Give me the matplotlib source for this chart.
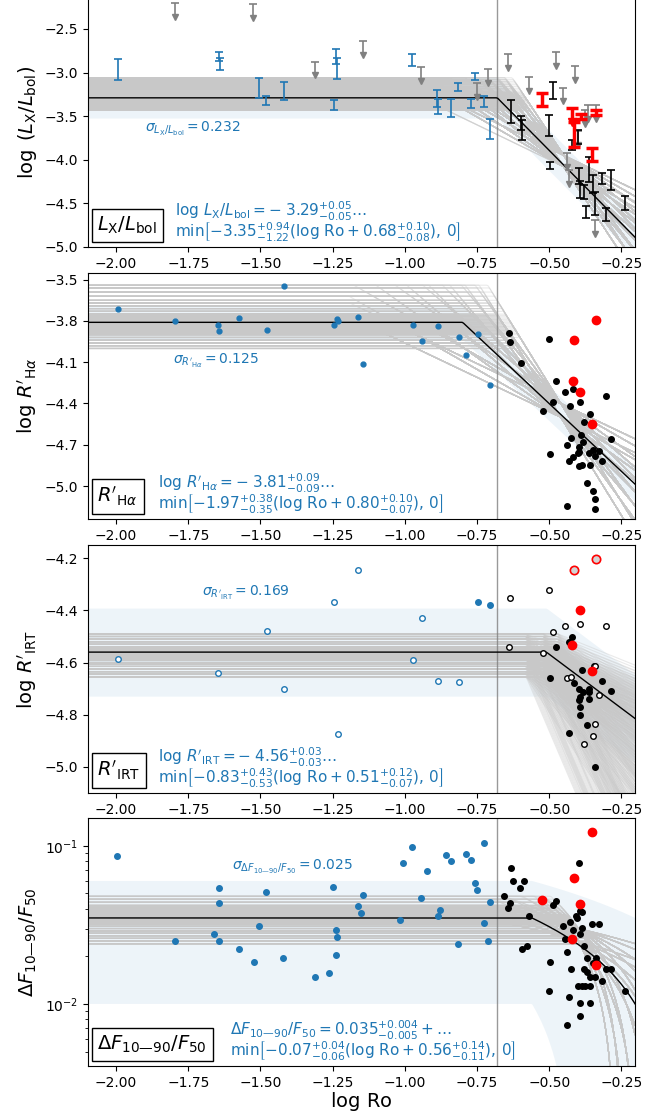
import itertools
import numpy as np
import matplotlib
matplotlib.use('Agg')
import matplotlib.pyplot as plt
from matplotlib.collections import LineCollection

BLUE = '#1f77b4'
RO_CUT = -0.68

# ---- L_X / L_bol ----
lx_blue_x = [-1.995, -1.643, -1.640, -1.505, -1.480, -1.420, -1.247, -1.240, -1.236, -0.974,
             -0.889, -0.885, -0.840, -0.816, -0.771, -0.757, -0.726, -0.705]
lx_blue_y = [-2.965, -2.82, -2.90, -3.18, -3.32, -3.21, -3.375, -2.815, -2.955, -2.857,
             -3.30, -3.39, -3.405, -3.165, -3.355, -3.045, -3.33, -3.645]
lx_blue_err = [0.12, 0.05, 0.07, 0.115, 0.05, 0.10, 0.055, 0.085, 0.12, 0.067,
               0.10, 0.09, 0.10, 0.042, 0.053, 0.04, 0.063, 0.115]
lx_black_x = [-0.633, -0.599, -0.593, -0.502, -0.487, -0.497, -0.399, -0.422, -0.398, -0.392,
              -0.378, -0.372, -0.361, -0.347, -0.341, -0.318, -0.303, -0.286, -0.236]
lx_black_y = [-3.443, -3.58, -3.657, -3.605, -3.206, -4.067, -3.74, -3.83, -4.19, -4.34,
              -4.37, -4.60, -4.11, -4.28, -4.50, -4.216, -4.627, -4.23, -4.497]
lx_black_err = [0.13, 0.077, 0.115, 0.12, 0.10, 0.04, 0.085, 0.055, 0.09, 0.10,
                0.075, 0.07, 0.14, 0.10, 0.13, 0.063, 0.073, 0.115, 0.076]
lx_red_x = [-0.526, -0.415, -0.390, -0.338, -0.352]
lx_red_y = [-3.31, -3.71, -3.50, -3.46, -3.94]
lx_red_err = [0.07, 0.14, 0.03, 0.025, 0.07]
lx_lim_x = [-1.796, -1.525, -1.311, -1.146, -0.945, -0.749, -0.713, -0.643, -0.569, -0.475,
            -0.453, -0.412, -0.365, -0.338, -0.376, -0.399, -0.439, -0.431, -0.341]
lx_lim_y = [-2.20, -2.21, -2.874, -2.637, -2.932, -3.122, -2.962, -2.786, -3.053, -2.76,
            -3.172, -2.92, -3.37, -3.37, -3.43, -3.676, -3.925, -4.115, -4.696]
lx_redlim_x = [-0.420]
lx_redlim_y = [-3.41]
LIM_LEN = 0.16

# ---- R'_Halpha ----
ha_blue_x = [-1.995, -1.795, -1.646, -1.643, -1.573, -1.478, -1.420, -1.246, -1.236, -1.233,
             -1.162, -1.144, -0.972, -0.941, -0.887, -0.814, -0.790, -0.747, -0.705]
ha_blue_y = [-3.715, -3.80, -3.831, -3.873, -3.778, -3.868, -3.544, -3.831, -3.785, -3.802,
             -3.771, -4.115, -3.829, -3.943, -3.839, -3.916, -4.049, -3.894, -4.267]
ha_black_x = [-0.641, -0.636, -0.599, -0.501, -0.475, -0.522, -0.486, -0.497, -0.447, -0.419,
              -0.428, -0.395, -0.359, -0.380, -0.303, -0.286, -0.424, -0.440, -0.389, -0.384,
              -0.396, -0.398, -0.400, -0.417, -0.431, -0.398, -0.387, -0.361, -0.349, -0.340,
              -0.329, -0.318, -0.359, -0.370, -0.350, -0.341, -0.341, -0.439]
ha_black_y = [-3.884, -3.955, -4.109, -3.930, -4.235, -4.458, -4.390, -4.767, -4.320, -4.298,
              -4.417, -4.390, -4.477, -4.533, -4.344, -4.659, -4.649, -4.700, -4.627, -4.678,
              -4.717, -4.749, -4.758, -4.787, -4.816, -4.854, -4.847, -4.758, -4.741, -4.785,
              -4.743, -4.816, -4.845, -4.976, -5.038, -5.096, -5.169, -5.147]
ha_red_x = [-0.339, -0.413, -0.419, -0.392, -0.353]
ha_red_y = [-3.79, -3.942, -4.235, -4.315, -4.547]

# ---- R'_IRT ----
irt_blue_open_x = [-1.995, -1.646, -1.478, -1.420, -1.246, -1.162, -1.233, -0.972, -0.941, -0.887, -0.814]
irt_blue_open_y = [-4.588, -4.642, -4.479, -4.701, -4.369, -4.245, -4.876, -4.591, -4.430, -4.670, -4.676]
irt_blue_x = [-0.747, -0.705]
irt_blue_y = [-4.369, -4.380]
irt_black_open_x = [-0.637, -0.501, -0.641, -0.522, -0.447, -0.487, -0.395, -0.303, -0.439, -0.424,
                    -0.345, -0.340, -0.327, -0.340, -0.350, -0.381]
irt_black_open_y = [-4.352, -4.323, -4.542, -4.565, -4.460, -4.482, -4.451, -4.460, -4.659, -4.656,
                    -4.612, -4.612, -4.725, -4.835, -4.881, -4.914]
irt_black_x = [-0.420, -0.431, -0.475, -0.497, -0.387, -0.416, -0.398, -0.384, -0.361, -0.361,
               -0.361, -0.395, -0.396, -0.394, -0.395, -0.319, -0.286, -0.370, -0.431, -0.341]
irt_black_y = [-4.501, -4.520, -4.541, -4.661, -4.630, -4.680, -4.701, -4.712, -4.703, -4.713,
               -4.740, -4.734, -4.742, -4.771, -4.802, -4.671, -4.710, -4.841, -4.872, -5.001]
irt_red_x = [-0.392, -0.420, -0.353]
irt_red_y = [-4.400, -4.531, -4.632]
irt_red_open_x = [-0.413, -0.339]
irt_red_open_y = [-4.245, -4.203]

# ---- Delta F_10-90 / F_50 ----
df_blue_x = [-1.997, -1.796, -1.642, -1.642, -1.660, -1.645, -1.573, -1.523, -1.505, -1.480,
             -1.421, -1.311, -1.264, -1.248, -1.237, -1.235, -1.238, -1.162, -1.151, -1.145,
             -1.016, -1.007, -0.974, -0.944, -0.923, -0.887, -0.880, -0.857, -0.839, -0.816,
             -0.789, -0.772, -0.757, -0.749, -0.726, -0.705, -0.725, -0.711]
df_blue_y = [0.0865, 0.0250, 0.0542, 0.0434, 0.0277, 0.0249, 0.0222, 0.0184, 0.0313, 0.0509,
             0.0194, 0.0148, 0.0157, 0.0552, 0.0295, 0.0267, 0.0203, 0.0415, 0.0378, 0.0487,
             0.0342, 0.0784, 0.0986, 0.0471, 0.0691, 0.0359, 0.0395, 0.0873, 0.0800, 0.0240,
             0.0890, 0.0818, 0.0581, 0.0525, 0.1040, 0.0443, 0.0324, 0.0249]
df_black_x = [-0.632, -0.625, -0.586, -0.600, -0.655, -0.636, -0.643, -0.569, -0.593, -0.578,
              -0.396, -0.475, -0.486, -0.428, -0.452, -0.417, -0.395, -0.407, -0.403, -0.394,
              -0.388, -0.385, -0.351, -0.327, -0.447, -0.439, -0.380, -0.497, -0.424, -0.370,
              -0.338, -0.347, -0.381, -0.370, -0.358, -0.340, -0.319, -0.303, -0.285, -0.400,
              -0.388, -0.376, -0.360, -0.501, -0.431, -0.395, -0.359, -0.236, -0.395, -0.440]
df_black_y = [0.0729, 0.0600, 0.0600, 0.0545, 0.0480, 0.0436, 0.0407, 0.0360, 0.0222, 0.0231,
              0.0780, 0.0451, 0.0424, 0.0332, 0.0313, 0.0294, 0.0279, 0.0360, 0.0348, 0.0388,
              0.0379, 0.0304, 0.0322, 0.0322, 0.0258, 0.0212, 0.0231, 0.0185, 0.0166, 0.0195,
              0.0195, 0.0181, 0.0167, 0.0159, 0.0148, 0.0148, 0.0139, 0.0166, 0.0166, 0.0129,
              0.0129, 0.0129, 0.0129, 0.0120, 0.0111, 0.0101, 0.0101, 0.0120, 0.00836, 0.0074]
df_red_x = [-0.353, -0.413, -0.525, -0.392, -0.420, -0.339]
df_red_y = [0.122, 0.0626, 0.0453, 0.0426, 0.0259, 0.0176]

# best-fit broken power laws: level + min(slope * (log Ro - brk), 0)
fits = {
    'lx': dict(level=-3.29, slope=-3.35, brk=-0.68, sigma=0.232),
    'ha': dict(level=-3.81, slope=-1.97, brk=-0.80, sigma=0.125),
    'irt': dict(level=-4.56, slope=-0.83, brk=-0.51, sigma=0.169),
    'df': dict(level=0.035, slope=-0.07, brk=-0.56, sigma=0.025),
}

# posterior draws, parametrised through pivot points on the slope
lx_levels = [-3.43, -3.41, -3.39, -3.375, -3.36, -3.35, -3.34, -3.33, -3.32, -3.315, -3.31,
             -3.30, -3.295, -3.29, -3.285, -3.28, -3.27, -3.265, -3.26, -3.25, -3.24, -3.23,
             -3.22, -3.20, -3.18, -3.16, -3.14, -3.12, -3.10, -3.08, -3.06]
lx_slopes = [-1.6, -1.9, -2.2, -2.6, -3.0, -3.4, -3.9, -4.4, -5.0]
lx_pivots = [(-0.45, -4.08), (-0.45, -3.95)]
ha_levels = [-4.00, -3.98, -3.96, -3.94, -3.92, -3.90, -3.89, -3.88, -3.87, -3.86, -3.85,
             -3.84, -3.83, -3.82, -3.81, -3.80, -3.79, -3.78, -3.77, -3.76, -3.75, -3.73,
             -3.71, -3.69, -3.67, -3.65, -3.62, -3.59, -3.56, -3.54]
ha_slopes = [-1.0, -1.2, -1.5, -1.8, -2.1, -2.5, -2.9, -3.4]
ha_pivots = [(-0.46, -4.40), (-0.46, -4.50)]
df_levels = [0.024, 0.025, 0.026, 0.027, 0.028, 0.029, 0.030, 0.031, 0.032, 0.0325, 0.033,
             0.0335, 0.034, 0.0345, 0.035, 0.0355, 0.036, 0.0365, 0.037, 0.038, 0.039, 0.040,
             0.041, 0.042, 0.044, 0.046, 0.048]
df_slopes = [-0.03, -0.04, -0.055, -0.07, -0.09, -0.12, -0.15, -0.19]
df_pivots = [(-0.40, 0.025), (-0.40, 0.030)]
# R'_IRT draws on a plain grid
irt_levels = [-4.655, -4.645, -4.635, -4.625, -4.615, -4.605, -4.60, -4.59, -4.585, -4.58,
              -4.575, -4.57, -4.565, -4.56, -4.555, -4.55, -4.545, -4.54, -4.53, -4.52,
              -4.51, -4.50, -4.49]
irt_slopes = [-0.45, -0.65, -0.9, -1.2, -1.7, -2.6]
irt_breaks = [-0.58, -0.52, -0.47]

XLIM = (-2.099, -0.203)
xx = np.linspace(XLIM[0], XLIM[1], 400)


def broken(x, level, slope, brk):
    return level + np.minimum(slope * (x - brk), 0)


def pivot_draws(levels, slopes, pivots, brk_range):
    out = []
    for (px, py), lev, s in itertools.product(pivots, levels, slopes):
        b = px + (lev - py) / s
        if brk_range[0] <= b <= brk_range[1]:
            out.append((lev, s, b))
    return out


def draw_model(ax, key, draws):
    f = fits[key]
    best = broken(xx, f['level'], f['slope'], f['brk'])
    ax.fill_between(xx, best - f['sigma'], best + f['sigma'], color=BLUE, alpha=0.08,
                    lw=0, zorder=0)
    segs = []
    for lev, s, b in draws:
        yy = broken(xx, lev, s, b)
        if ax.get_yscale() == 'log':
            yy = np.clip(yy, 1e-4, None)
        segs.append(np.column_stack([xx, yy]))
    ax.add_collection(LineCollection(segs, colors='#c8c8c8', linewidths=0.8, alpha=0.38,
                                     zorder=1))
    ax.axvline(RO_CUT, color='gray', lw=1.0, alpha=0.8, zorder=2)
    ax.plot(xx, best, color='k', lw=1.0, zorder=2)


def upper_limits(ax, x, y, color, lw, size, z):
    # cap at the limit, bar down, arrow head at the bottom
    x = np.asarray(x)
    y = np.asarray(y)
    ax.vlines(x, y - LIM_LEN, y, colors=color, lw=lw, zorder=z)
    ax.plot(x, y, '_', color=color, ms=size, mew=lw, zorder=z)
    ax.plot(x, y - LIM_LEN, 'v', color=color, ms=size * 0.8, zorder=z)


def add_texts(ax, label, sigma_txt, sig_pos, eq1, eq2, eq_x):
    ax.text(0.018, 0.045, label, transform=ax.transAxes, fontsize=14, ha='left', va='bottom',
            bbox=dict(boxstyle='square,pad=0.3', fc='white', ec='black', lw=1), zorder=6)
    ax.text(sig_pos[0], sig_pos[1], sigma_txt, transform=ax.transAxes, fontsize=10,
            color=BLUE, ha='left', va='center', zorder=6)
    ax.text(eq_x, 0.145, eq1, transform=ax.transAxes, fontsize=11, color=BLUE,
            ha='left', va='center', zorder=6)
    ax.text(eq_x, 0.058, eq2, transform=ax.transAxes, fontsize=11, color=BLUE,
            ha='left', va='center', zorder=6)


fig = plt.figure(figsize=(6.7, 11.16), dpi=100)
left, width = 0.1306, 0.8172
ax1 = fig.add_axes([left, 0.7787, width, 0.2225])
ax2 = fig.add_axes([left, 0.5349, width, 0.2204])
ax3 = fig.add_axes([left, 0.2894, width, 0.2222])
ax4 = fig.add_axes([left, 0.0448, width, 0.2222])

# panel 1: X-ray
draw_model(ax1, 'lx', pivot_draws(lx_levels, lx_slopes, lx_pivots, (-0.90, -0.55)))
upper_limits(ax1, lx_lim_x, lx_lim_y, 'gray', 1.2, 6, 3)
ax1.errorbar(lx_blue_x, lx_blue_y, yerr=lx_blue_err, fmt='none', ecolor=BLUE,
             elinewidth=1.2, capsize=3, capthick=1.2, zorder=3)
ax1.errorbar(lx_black_x, lx_black_y, yerr=lx_black_err, fmt='none', ecolor='k',
             elinewidth=1.2, capsize=3, capthick=1.2, zorder=3)
upper_limits(ax1, lx_redlim_x, lx_redlim_y, 'red', 2.5, 8, 4)
ax1.errorbar(lx_red_x, lx_red_y, yerr=lx_red_err, fmt='none', ecolor='red',
             elinewidth=2.5, capsize=4, capthick=2.5, zorder=4)
ax1.set_ylim(-5.0, -2.153)
ax1.set_ylabel(r'$\log\;(L_{\rm X}/L_{\rm bol})$', fontsize=14)
add_texts(ax1, r'$L_{\rm X}/L_{\rm bol}$', r'$\sigma_{L_{\rm X}/L_{\rm bol}} = 0.232$',
          (0.105, 0.474),
          r'$\log\,L_{\rm X}/L_{\rm bol} = -\;3.29^{+0.05}_{-0.05}\ldots$',
          r'$\min\left[-3.35^{+0.94}_{-1.22}(\log\,{\rm Ro} + 0.68^{+0.10}_{-0.08}),\,0\right]$',
          0.16)

# panel 2: H alpha
draw_model(ax2, 'ha', pivot_draws(ha_levels, ha_slopes, ha_pivots, (-1.2, -0.60)))
ax2.plot(ha_blue_x, ha_blue_y, 'o', color=BLUE, ms=3.5, zorder=3)
ax2.plot(ha_black_x, ha_black_y, 'o', color='k', ms=4, zorder=3)
ax2.plot(ha_red_x, ha_red_y, 'o', color='red', ms=6, zorder=4)
ax2.set_ylim(-5.24, -3.452)
ax2.set_yticks([-5.0, -4.7, -4.4, -4.1, -3.8, -3.5])
ax2.set_ylabel(r"$\log\,R'_{\mathrm{H}\alpha}$", fontsize=14)
add_texts(ax2, r"$R'_{\mathrm{H}\alpha}$", r"$\sigma_{R'_{\mathrm{H}\alpha}} = 0.125$",
          (0.156, 0.643),
          r"$\log\,R'_{\mathrm{H}\alpha} = -\;3.81^{+0.09}_{-0.09}\ldots$",
          r'$\min\left[-1.97^{+0.38}_{-0.35}(\log\,{\rm Ro} + 0.80^{+0.10}_{-0.07}),\,0\right]$',
          0.129)

# panel 3: Ca II IRT
draw_model(ax3, 'irt', list(itertools.product(irt_levels, irt_slopes, irt_breaks)))
ax3.plot(irt_blue_open_x, irt_blue_open_y, 'o', mfc='white', mec=BLUE, mew=1.0, ms=4, zorder=3)
ax3.plot(irt_blue_x, irt_blue_y, 'o', color=BLUE, ms=4, zorder=3)
ax3.plot(irt_black_open_x, irt_black_open_y, 'o', mfc='white', mec='k', mew=1.0, ms=4, zorder=3)
ax3.plot(irt_black_x, irt_black_y, 'o', color='k', ms=4, zorder=3)
ax3.plot(irt_red_x, irt_red_y, 'o', color='red', ms=6, zorder=4)
ax3.plot(irt_red_open_x, irt_red_open_y, 'o', mfc='lightgray', mec='red', mew=1.2, ms=6, zorder=4)
ax3.set_ylim(-5.101, -4.149)
ax3.set_yticks([-5.0, -4.8, -4.6, -4.4, -4.2])
ax3.set_ylabel(r"$\log\,R'_{\mathrm{IRT}}$", fontsize=14)
add_texts(ax3, r"$R'_{\mathrm{IRT}}$", r"$\sigma_{R'_{\mathrm{IRT}}} = 0.169$",
          (0.209, 0.808),
          r"$\log\,R'_{\mathrm{IRT}} = -\;4.56^{+0.03}_{-0.03}\ldots$",
          r'$\min\left[-0.83^{+0.43}_{-0.53}(\log\,{\rm Ro} + 0.51^{+0.12}_{-0.07}),\,0\right]$',
          0.129)

# panel 4: photometric variability amplitude
ax4.set_yscale('log')
draw_model(ax4, 'df', pivot_draws(df_levels, df_slopes, df_pivots, (-0.72, -0.30)))
ax4.plot(df_blue_x, df_blue_y, 'o', color=BLUE, ms=4, zorder=3)
ax4.plot(df_black_x, df_black_y, 'o', color='k', ms=4, zorder=3)
ax4.plot(df_red_x, df_red_y, 'o', color='red', ms=6, zorder=4)
ax4.set_ylim(0.00405, 0.150)
ax4.set_ylabel(r'$\Delta F_{10—90}/F_{50}$', fontsize=14)
ax4.set_xlabel(r'$\log\,{\rm Ro}$', fontsize=14, labelpad=0)
add_texts(ax4, r'$\Delta F_{10—90}/F_{50}$', r'$\sigma_{\Delta F_{10—90}/F_{50}} = 0.025$',
          (0.263, 0.804),
          r'$\Delta F_{10—90}/F_{50} = 0.035^{+0.004}_{-0.005} + \ldots$',
          r'$\min\left[-0.07^{+0.04}_{-0.06}(\log\,{\rm Ro} + 0.56^{+0.14}_{-0.11}),\,0\right]$',
          0.26)

for ax in (ax1, ax2, ax3, ax4):
    ax.set_xlim(*XLIM)
    ax.set_xticks([-2.0, -1.75, -1.5, -1.25, -1.0, -0.75, -0.5, -0.25])
    ax.set_xticklabels(['\u22122.00', '\u22121.75', '\u22121.50', '\u22121.25',
                        '\u22121.00', '\u22120.75', '\u22120.50', '\u22120.25'])
    ax.tick_params(labelsize=10)

fig.savefig('out.png', dpi=100)
